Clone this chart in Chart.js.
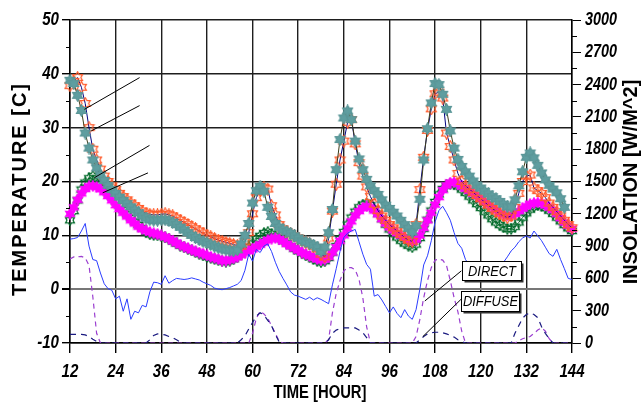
<!DOCTYPE html>
<html>
<head>
<meta charset="utf-8">
<script src="https://cdn.jsdelivr.net/npm/chart.js@4.4.1/dist/chart.umd.min.js"></script>
<style>
  html, body { margin: 0; padding: 0; background: #fff; }
  canvas { display: block; }
</style>
</head>
<body>
<canvas id="chart" width="642" height="403"></canvas>
<script>
// hourly samples, hour 12 .. 144
const hours = [];
for (let h = 12; h <= 144; h++) hours.push(h);

const xTicks = [12, 24, 36, 48, 60, 72, 84, 96, 108, 120, 132, 144];
const tempTicks = [-10, 0, 10, 20, 30, 40, 50];
const radTicks = [0, 300, 600, 900, 1200, 1500, 1800, 2100, 2400, 2700, 3000];

// temperatures [C]
const tealTemp = [
  38.8, 38.2, 36.0, 33.2, 29.0, 26.2, 24.0, 22.5, 21.2, 20.2,
  19.3, 18.5, 17.8, 17.1, 16.5, 15.9, 15.3, 14.7, 14.2, 13.6,
  13.2, 12.9, 12.8, 12.8, 12.9, 12.9, 12.7, 12.4, 12.0, 11.5,
  11.0, 10.5, 10.0, 9.6, 9.2, 8.9, 8.6, 8.3, 8.0, 7.7,
  7.5, 7.3, 7.2, 7.1, 7.3, 8.4, 10.0, 12.2, 16.0, 18.3,
  19.1, 18.2, 15.2, 13.5, 12.2, 11.5, 11.0, 10.7, 10.4, 9.9,
  9.5, 9.0, 8.8, 8.5, 8.2, 7.8, 7.0, 7.8, 10.5, 14.8,
  22.2, 27.8, 31.8, 33.1, 31.5, 27.5, 24.2, 22.2, 20.4, 19.2,
  18.3, 17.6, 16.6, 15.6, 15.0, 14.3, 13.6, 12.8, 12.0, 11.3,
  10.6, 11.8, 16.7, 24.0, 29.8, 34.6, 38.2, 38.0, 36.2, 33.4,
  29.4, 26.2, 24.1, 22.8, 21.8, 21.0, 20.1, 19.3, 18.8, 18.2,
  17.7, 17.2, 16.8, 16.3, 15.8, 15.3, 15.3, 16.6, 19.2, 21.8,
  24.5, 25.3, 24.4, 23.0, 21.6, 20.3, 19.3, 18.6, 17.9, 16.8,
  15.2, null, null
];
const orangeTemp = [
  37.8, 38.6, 39.3, 37.5, 34.5, 30.0, 26.0, 24.0, 22.3, 21.0,
  20.0, 19.2, 18.5, 17.8, 17.2, 16.6, 16.0, 15.5, 15.0, 14.5,
  14.1, 13.9, 13.8, 13.8, 13.9, 14.0, 13.8, 13.6, 13.2, 12.8,
  12.4, 12.0, 11.6, 11.2, 10.8, 10.4, 10.0, 9.7, 9.4, 9.1,
  8.9, 8.7, 8.5, 8.3, 8.1, 8.0, 8.8, 10.5, 14.0, 17.0,
  18.3, 18.8, 18.6, 15.5, 13.8, 12.0, 11.2, 10.7, 10.3, 9.9,
  9.5, 9.1, 8.7, 8.4, 8.0, 7.5, 6.5, 6.0, 9.5, 14.5,
  19.5, 24.0, 27.5, 31.0, 31.5, 27.0, 23.5, 21.0, 19.0, 17.2,
  15.8, 14.6, 13.6, 12.8, 12.0, 11.4, 10.8, 10.2, 9.6, 9.1,
  8.9, 12.0, 18.5, 24.5, 29.5, 33.5, 36.3, 36.6, 35.5, 29.0,
  26.5, 24.0, 21.5, 20.0, 19.2, 18.6, 18.0, 17.4, 16.8, 16.2,
  15.6, 15.0, 14.5, 14.0, 13.6, 13.3, 13.6, 15.2, 17.8, 20.0,
  21.0, 21.2, 18.8, 18.3, 17.8, 17.0, 16.0, 15.2, 14.4, 13.6,
  12.8, 12.0, 11.4
];
const greenTemp = [
  12.8, 14.5, 16.5, 18.5, 19.8, 20.6, 21.0, 20.6, 19.8, 19.0,
  18.1, 17.2, 16.3, 15.5, 14.7, 13.9, 13.2, 12.5, 11.9, 11.3,
  10.6, 10.2, 10.1, 10.0, 9.9, 9.6, 9.3, 8.9, 8.5, 8.1,
  7.8, 7.5, 7.2, 6.9, 6.6, 6.3, 6.0, 5.8, 5.6, 5.4,
  5.2, 5.1, 5.3, 5.6, 6.0, 6.5, 7.1, 7.8, 8.5, 9.3,
  9.9, 10.4, 10.6, 10.2, 9.8, 9.4, 9.0, 8.5, 8.0, 7.5,
  7.1, 6.7, 6.3, 6.0, 5.6, 5.3, 5.0, 5.2, 5.8, 6.8,
  8.0, 9.3, 10.6, 12.0, 13.3, 14.4, 15.2, 15.7, 15.9, 15.6,
  14.9, 14.0, 13.0, 12.0, 11.1, 10.3, 9.6, 9.0, 8.5, 8.1,
  7.8, 8.3, 9.5, 11.2, 12.9, 14.6, 16.2, 17.6, 18.6, 19.3,
  19.6, 19.5, 19.1, 18.5, 17.9, 17.2, 16.5, 15.8, 15.1, 14.4,
  13.7, 13.0, 12.4, 11.9, 11.5, 11.2, 11.2, 11.6, 12.4, 13.3,
  14.1, 14.8, 15.3, 15.6, 15.5, 15.1, 14.6, 14.0, 13.3, 12.6,
  11.9, 11.3, 10.8
];
const magentaTemp = [
  14.0, 15.2, 16.6, 17.8, 18.6, 19.1, 19.2, 19.0, 18.6, 18.0,
  17.3, 16.5, 15.6, 14.9, 14.2, 13.5, 12.8, 12.2, 11.6, 11.2,
  10.9, 10.6, 10.4, 10.2, 10.0, 9.7, 9.4, 9.0, 8.6, 8.2,
  7.9, 7.6, 7.3, 7.0, 6.8, 6.6, 6.3, 6.0, 5.8, 5.6,
  5.3, 5.3, 5.5, 5.7, 6.0, 6.4, 6.8, 7.1, 7.5, 7.9,
  8.3, 8.7, 9.1, 9.4, 9.5, 9.3, 8.9, 8.4, 8.0, 7.6,
  7.2, 6.8, 6.5, 6.2, 5.9, 5.6, 5.4, 5.5, 6.0, 6.8,
  7.8, 9.0, 10.0, 11.3, 12.6, 13.7, 14.5, 15.1, 15.4, 15.2,
  14.6, 13.9, 13.0, 12.2, 11.5, 10.9, 10.4, 10.0, 9.6, 9.2,
  8.9, 9.2, 10.0, 11.4, 12.8, 14.2, 15.7, 17.1, 18.4, 19.3,
  19.8, 19.9, 19.6, 19.1, 18.7, 18.3, 17.8, 17.3, 16.8, 16.3,
  15.8, 15.2, 14.7, 14.2, 13.9, 13.7, 13.7, 14.0, 14.5, 15.0,
  15.4, 15.8, 16.0, 16.1, 16.0, 15.6, 15.2, 14.7, 14.0, 13.2,
  12.4, 11.8, 11.2
];
const ambientTemp = [
  9.3, 9.4, 9.6, 10.8, 12.2, 8.0, 5.5, 5.3, 3.0, 1.0,
  0.1, -0.2, -1.8, -1.3, -4.1, -1.8, -5.6, -4.1, -4.4, -3.0,
  -3.3, -0.5, 1.3, 1.2, 0.9, 2.5, 1.1, 1.6, 2.0, 1.9,
  1.8, 1.9, 2.1, 1.9, 1.7, 1.3, 1.0, 0.7, 0.2, 0.0,
  -0.1, 0.1, 0.3, 0.6, 0.9, 1.6, 3.5, 6.5, 5.2, 7.4,
  6.8, 8.0, 8.4, 7.0, 5.0, 3.3, 2.0, 0.8, -0.5, -1.1,
  -1.3, -1.6, -1.9, -1.5, -2.0, -1.6, -1.9, -2.3, -2.7, 0.8,
  3.8, 7.0, 9.6, 10.4, 10.8, 11.1, 8.8, 6.5, 4.6, 3.7,
  -1.3, -1.0, -2.0, -3.2, -4.4, -3.3, -4.5, -5.3, -3.8, -5.0,
  -5.6, -3.8, 0.0, 4.5, 6.2, 9.0, 12.5, 14.6, 15.4, 14.2,
  12.8, 10.5, 8.5, 7.6, 5.5, 4.5, 4.0, 3.5, 3.2, 3.0,
  3.2, 3.5, 4.0, 4.5, 5.0, 6.0, 7.1, 7.8, 8.8, 9.5,
  9.9, 9.5, 10.8, 9.9, 9.0, 7.8, 6.6, 6.1, 7.4, 5.5,
  3.8, 2.0, 1.8
];

// insolation [W/M^2]
const directRad = [
  780, 800, 800, 805, 790, 720, 430, 90, 0, 0,
  0, 0, 0, 0, 0, 0, 0, 0, 0, 0,
  0, 0, 0, 0, 0, 0, 0, 0, 0, 0,
  0, 0, 0, 0, 0, 0, 0, 0, 0, 0,
  0, 0, 0, 0, 0, 0, 0, 0, 90, 230,
  295, 270, 230, 160, 90, 15, 0, 0, 0, 0,
  0, 0, 0, 0, 0, 0, 0, 0, 30, 280,
  460, 580, 670, 700, 700, 680, 590, 420, 150, 0,
  0, 0, 0, 0, 0, 0, 0, 0, 0, 0,
  0, 60, 220, 420, 580, 700, 770, 780, 770, 720,
  580, 420, 290, 110, 0, 0, 0, 0, 0, 0,
  0, 0, 0, 0, 0, 0, 0, 0, 20, 40,
  50, 60, 90, 120, 140, 110, 40, 0, 0, 0,
  0, 0, 0
];
const diffuseRad = [
  80, 80, 80, 80, 75, 60, 35, 15, 0, 0,
  0, 0, 0, 0, 0, 0, 0, 0, 0, 0,
  0, 30, 70, 85, 80, 75, 60, 50, 30, 10,
  0, 0, 0, 0, 0, 0, 0, 0, 0, 0,
  0, 0, 0, 0, 0, 30, 65, 130, 190, 250,
  280, 260, 210, 160, 80, 10, 0, 0, 0, 0,
  0, 0, 0, 0, 0, 0, 0, 0, 30, 90,
  120, 135, 140, 140, 140, 140, 120, 95, 50, 0,
  0, 0, 0, 0, 0, 0, 0, 0, 0, 0,
  0, 0, 30, 60, 85, 95, 100, 100, 95, 85,
  70, 55, 30, 15, 0, 0, 0, 0, 0, 0,
  0, 0, 0, 0, 0, 0, 0, 90, 160, 230,
  265, 280, 265, 235, 150, 90, 40, 0, 0, 0,
  0, 0, 0
];

// leader lines (hour, temp) -> (hour, temp)
const leaders = [
  [15.8, 33.4, 30.3, 39.3],
  [17.6, 29.4, 30.3, 34.1],
  [18.4, 20.7, 32.9, 26.7],
  [20.6, 17.9, 32.5, 21.6]
];
const callouts = [
  { text: 'DIRECT',  h0: 115.1, h1: 130.7, t0: 5.2,  t1: 1.7,  from: [114.9, 3.4],  to: [105.3, -2.2] },
  { text: 'DIFFUSE', h0: 114.8, h1: 130.1, t0: -0.4, t1: -4.0, from: [114.8, -1.9], to: [104.8, -8.8] }
];

const FONT = "'Liberation Sans',Arial,sans-serif";

function starImage(size, fill, stroke, inner) {
  const c = document.createElement('canvas');
  c.width = c.height = size;
  const g = c.getContext('2d');
  const R = size / 2 - 0.8, r = R * inner, m = size / 2;
  g.beginPath();
  for (let k = 0; k < 12; k++) {
    const a = -Math.PI / 2 + k * Math.PI / 6;
    const rr = k % 2 ? r : R;
    g.lineTo(m + rr * Math.cos(a), m + rr * Math.sin(a));
  }
  g.closePath();
  if (fill) { g.fillStyle = fill; g.fill(); }
  if (stroke) { g.strokeStyle = stroke; g.lineWidth = 1.2; g.stroke(); }
  return c;
}

const tealStar = starImage(13, '#5f9ea0', '#5a9697', 0.6);
const orangeStar = starImage(13, null, '#ff5a2a', 0.577);
const greenStar = starImage(12, null, '#006a2a', 0.577);
const magentaStar = starImage(12, '#ff00ff', '#ff00ff', 0.55);

function xy(arr) { return hours.map((h, i) => ({ x: h, y: arr[i] })); }

const tempSet = (label, arr, line, img) => ({
  label, data: xy(arr), yAxisID: 'y',
  borderColor: line, borderWidth: 1, pointStyle: img, pointRadius: 5,
  tension: 0, clip: 8
});

// narrow bold-italic text drawn by squeezing a regular face
function narrowText(ctx, text, x, y, align, sx) {
  ctx.save();
  ctx.translate(x, y);
  ctx.scale(sx, 1);
  ctx.textAlign = align;
  ctx.fillText(text, 0, 0);
  ctx.restore();
}

function spacedText(ctx, text, x, y, span) {
  ctx.letterSpacing = '0px';
  const w = ctx.measureText(text).width;
  const sp = Math.max(0, (span - w) / text.length);
  ctx.letterSpacing = sp + 'px';
  ctx.fillText(text, x, y);
  ctx.letterSpacing = '0px';
}

const axisText = {
  id: 'axisText',
  afterDraw(chart) {
    const { ctx, chartArea, scales } = chart;
    ctx.save();
    // minor ticks
    ctx.strokeStyle = '#000';
    ctx.lineWidth = 1;
    for (let v = -5; v < 50; v += 10) {
      const y = Math.round(scales.y.getPixelForValue(v)) + 0.5;
      ctx.beginPath(); ctx.moveTo(chartArea.left - 4, y); ctx.lineTo(chartArea.left, y); ctx.stroke();
    }
    for (let v = 150; v < 3000; v += 300) {
      const y = Math.round(scales.y2.getPixelForValue(v)) + 0.5;
      ctx.beginPath(); ctx.moveTo(chartArea.right, y); ctx.lineTo(chartArea.right + 5, y); ctx.stroke();
    }
    // tick labels
    ctx.fillStyle = '#000';
    ctx.textBaseline = 'middle';
    ctx.font = 'italic bold 18px ' + FONT;
    tempTicks.forEach(v => narrowText(ctx, String(v), chartArea.left - 11, scales.y.getPixelForValue(v), 'right', 0.84));
    radTicks.forEach(v => narrowText(ctx, String(v), chartArea.right + 13, scales.y2.getPixelForValue(v), 'left', 0.8));
    xTicks.forEach(v => narrowText(ctx, String(v), scales.x.getPixelForValue(v), chartArea.bottom + 29, 'center', 0.84));
    // axis titles
    ctx.textAlign = 'center';
    ctx.font = 'bold 19px ' + FONT;
    narrowText(ctx, 'TIME [HOUR]', 320, 393, 'center', 0.78);
    ctx.font = 'bold 20px ' + FONT;
    ctx.save();
    ctx.translate(20, 189);
    ctx.rotate(-Math.PI / 2);
    spacedText(ctx, 'TEMPERATURE [C]', 0, 0, 214);
    ctx.restore();
    ctx.save();
    ctx.translate(631, 182);
    ctx.rotate(-Math.PI / 2);
    spacedText(ctx, 'INSOLATION [W/M^2]', 0, 0, 200);
    ctx.restore();
    ctx.restore();
  }
};

const annotations = {
  id: 'annotations',
  afterDatasetsDraw(chart) {
    const { ctx, scales } = chart;
    const X = v => scales.x.getPixelForValue(v);
    const Y = v => scales.y.getPixelForValue(v);
    ctx.save();
    ctx.strokeStyle = '#000';
    ctx.lineWidth = 1;
    leaders.forEach(([h0, t0, h1, t1]) => {
      ctx.beginPath(); ctx.moveTo(X(h0), Y(t0)); ctx.lineTo(X(h1), Y(t1)); ctx.stroke();
    });
    callouts.forEach(c => {
      const x0 = Math.round(X(c.h0)) + 0.5, x1 = Math.round(X(c.h1)) + 0.5;
      const y0 = Math.round(Y(c.t0)) + 0.5, y1 = Math.round(Y(c.t1)) + 0.5;
      ctx.beginPath(); ctx.moveTo(X(c.from[0]), Y(c.from[1])); ctx.lineTo(X(c.to[0]), Y(c.to[1])); ctx.stroke();
      ctx.fillStyle = '#333';
      ctx.fillRect(x0 + 2, y0 + 2, x1 - x0, y1 - y0);
      ctx.fillStyle = '#fff';
      ctx.fillRect(x0, y0, x1 - x0, y1 - y0);
      ctx.strokeRect(x0, y0, x1 - x0, y1 - y0);
      ctx.fillStyle = '#000';
      ctx.font = 'italic 14px ' + FONT;
      ctx.textBaseline = 'middle';
      narrowText(ctx, c.text, (x0 + x1) / 2, (y0 + y1) / 2 + 1, 'center', 0.92);
    });
    ctx.restore();
  }
};

new Chart(document.getElementById('chart'), {
  type: 'line',
  data: {
    datasets: [
      { label: 'ambient', data: xy(ambientTemp), yAxisID: 'y', borderColor: '#2a3cff', borderWidth: 1, pointRadius: 0, tension: 0 },
      { label: 'DIFFUSE', data: xy(diffuseRad), yAxisID: 'y2', borderColor: '#1a1a80', borderWidth: 1.2, borderDash: [6, 5], pointRadius: 0, tension: 0 },
      { label: 'DIRECT', data: xy(directRad), yAxisID: 'y2', borderColor: '#9b3fd0', borderWidth: 1.2, borderDash: [5, 4], pointRadius: 0, tension: 0 },
      tempSet('teal', tealTemp, '#3d3d1a', tealStar),
      tempSet('orange', orangeTemp, '#000080', orangeStar),
      tempSet('magenta', magentaTemp, '#ff00ff', magentaStar),
      tempSet('green', greenTemp, '#006a2a', greenStar)
    ]
  },
  options: {
    responsive: false,
    animation: false,
    layout: { padding: { top: 20 } },
    plugins: { legend: { display: false }, tooltip: { enabled: false } },
    scales: {
      x: {
        type: 'linear', min: 12, max: 144, position: 'bottom',
        afterFit: s => { s.height = 60; },
        ticks: { stepSize: 12, display: false },
        grid: { color: '#1e1e1e', lineWidth: 1.4, tickLength: 10, tickColor: '#000' },
        border: { color: '#000', width: 1.5 }
      },
      y: {
        position: 'left', min: -10, max: 50,
        afterFit: s => { s.width = 70; },
        ticks: { stepSize: 10, display: false },
        grid: { color: c => c.tick.value === 0 ? '#777' : '#1e1e1e', lineWidth: c => c.tick.value === 0 ? 2 : 1.4, tickLength: 8, tickColor: '#000' },
        border: { color: '#000', width: 1.5 }
      },
      y2: {
        position: 'right', min: 0, max: 3000,
        afterFit: s => { s.width = 70; },
        ticks: { stepSize: 300, display: false },
        grid: { drawOnChartArea: false, tickLength: 9, tickColor: '#000' },
        border: { color: '#000', width: 1.5 }
      }
    }
  },
  plugins: [axisText, annotations]
});
</script>
</body>
</html>
